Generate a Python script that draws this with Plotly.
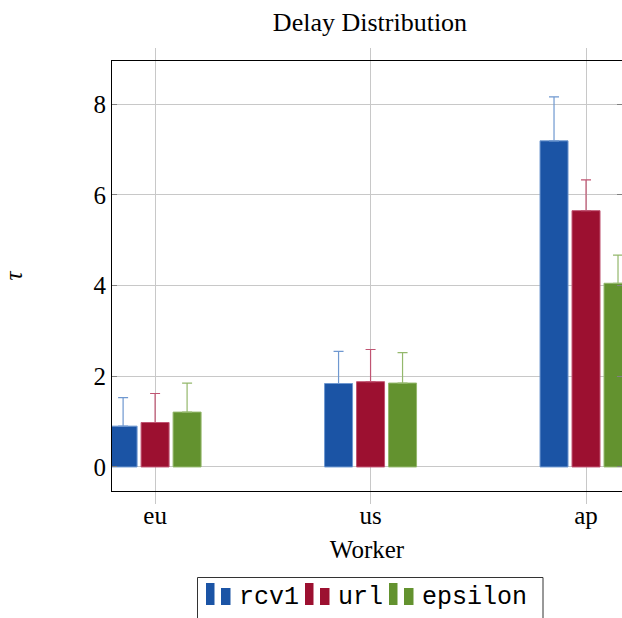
import plotly.graph_objects as go

# Mean delay per worker region, with the upper spread for each dataset
workers = ["eu", "us", "ap"]
series_names = ["rcv1", "url", "epsilon"]

rcv1_mean = [0.90, 1.84, 7.19]
rcv1_err = [0.63, 0.71, 0.97]
url_mean = [0.98, 1.88, 5.65]
url_err = [0.64, 0.71, 0.68]
epsilon_mean = [1.21, 1.85, 4.05]
epsilon_err = [0.64, 0.67, 0.62]

y_ticks = [0, 2, 4, 6, 8]

means = [rcv1_mean, url_mean, epsilon_mean]
errs = [rcv1_err, url_err, epsilon_err]

fill_colors = ["#1b54a5", "#9c1030", "#63922f"]
edge_colors = ["#6f98d0", "#c05472", "#94b86c"]

W, H = 622, 618
L, R, T, B = 112, 0, 61, 127
plot_w = W - L - R
plot_h = H - T - B

serif = "Liberation Serif, Times New Roman, serif"
mono = "Liberation Mono, Courier New, monospace"


def px_x(px):
    return (px - L) / plot_w


def px_y(py):
    return (H - B - py) / plot_h


fig = go.Figure()
for name, m, e, fc, ec in zip(series_names, means, errs, fill_colors, edge_colors):
    fig.add_trace(go.Bar(
        name=name,
        x=workers,
        y=m,
        marker=dict(color=fc, line=dict(color=ec, width=1)),
        error_y=dict(type="data", array=e, arrayminus=[0] * len(e),
                     symmetric=False, color=ec, thickness=1.2, width=5),
        showlegend=False,
    ))

grid = "#c8c8c8"
axis_font = dict(family=serif, size=25, color="black")
fig.update_layout(
    width=W, height=H,
    margin=dict(l=L, r=R, t=T, b=B, pad=0),
    paper_bgcolor="white", plot_bgcolor="white",
    barmode="group", bargap=0.5545, bargroupgap=0.125,
    font=axis_font,
    title=dict(text="Delay Distribution", x=px_x(370), xref="paper",
               xanchor="center", y=1 - 22 / H, yanchor="middle",
               font=dict(family=serif, size=26, color="black")),
    xaxis=dict(
        range=[-0.2, 2.167], showgrid=True, gridcolor=grid, gridwidth=1,
        ticks="outside", ticklen=12, tickcolor=grid, tickwidth=1,
        showline=True, linecolor="black", linewidth=1, mirror="ticks",
        ticklabelstandoff=-10,
        title=dict(text="Worker", standoff=12, font=axis_font),
        tickfont=axis_font,
    ),
    yaxis=dict(
        range=[-0.53, 8.95], tickvals=y_ticks, showgrid=True, gridcolor=grid,
        gridwidth=1, zeroline=False,
        ticks="inside", ticklen=5, tickcolor="#808080", tickwidth=1,
        showline=True, linecolor="black", linewidth=1, mirror="ticks",
        title=dict(text="<i>τ</i>", standoff=65, font=axis_font),
        tickfont=axis_font,
    ),
)

# Legend box with two-bar icons and monospace labels
shapes = [dict(type="rect", xref="paper", yref="paper",
               x0=px_x(197.5), x1=px_x(543), y0=px_y(640), y1=px_y(577.5),
               line=dict(color="#333333", width=1), fillcolor="rgba(0,0,0,0)")]
annotations = []
char_w = 15
x0 = 206
for name, fc in zip(series_names, fill_colors):
    shapes.append(dict(type="rect", xref="paper", yref="paper",
                       x0=px_x(x0), x1=px_x(x0 + 8.5),
                       y0=px_y(605), y1=px_y(583),
                       line=dict(width=0), fillcolor=fc))
    shapes.append(dict(type="rect", xref="paper", yref="paper",
                       x0=px_x(x0 + 15), x1=px_x(x0 + 24.5),
                       y0=px_y(605), y1=px_y(588),
                       line=dict(width=0), fillcolor=fc))
    tx = x0 + 31
    annotations.append(dict(text=name, xref="paper", yref="paper",
                            x=px_x(tx), y=px_y(597), xanchor="left",
                            yanchor="middle", showarrow=False,
                            font=dict(family=mono, size=25, color="black")))
    x0 = tx + char_w * len(name) + 8

fig.update_layout(shapes=shapes, annotations=annotations)

fig.write_html("out.html")
